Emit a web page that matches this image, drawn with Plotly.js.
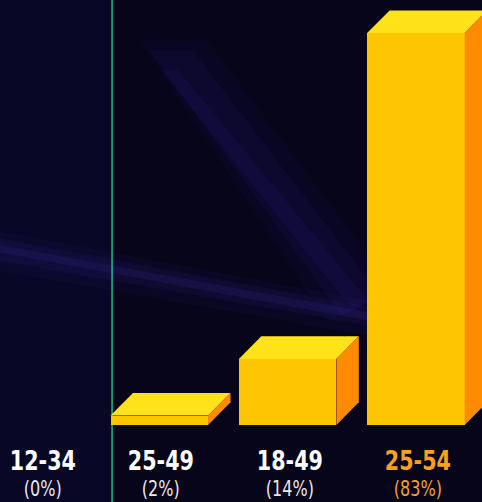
<!DOCTYPE html>
<html>
<head>
<meta charset="utf-8">
<script src="https://cdn.plot.ly/plotly-3.0.1.min.js"></script>
<style>
html,body{margin:0;padding:0;background:#06051a;}
#chart{width:482px;height:502px;}
</style>
</head>
<body>
<div id="chart"></div>
<script>
// ---- data ----
const categories = ["12-34", "25-49", "18-49", "25-54"];
const shares = [0, 2, 14, 83];
const shareLabels = ["(0%)", "(2%)", "(14%)", "(83%)"];
const highlight = [false, false, false, true];

// ---- styling ----
const W = 482, H = 502;
const barWidth = 0.76;
const depthX = 0.175;   // depth offset in x units
const depthY = 4.8;     // depth offset in y units
const frontColor = "#fec600";
const topColor = "#ffe21a";
const sideColor = "#ff8c00";
const xIdx = categories.map((c, i) => i);

const shapes = [];
// background glow (paper coords), layered for soft edges
shapes.push({type:"rect", xref:"paper", yref:"paper", layer:"below",
  x0:0, x1:0.232, y0:0, y1:1, fillcolor:"rgba(20,20,80,0.22)", line:{width:0}});
const diag = [
  ["M 0.29 0.92 L 0.43 0.92 L 0.82 0.42 L 0.68 0.36 Z", 0.06],
  ["M 0.31 0.90 L 0.40 0.90 L 0.79 0.41 L 0.71 0.37 Z", 0.08],
  ["M 0.335 0.86 L 0.37 0.86 L 0.765 0.40 L 0.73 0.385 Z", 0.10]
];
diag.forEach(d => shapes.push({type:"path", xref:"paper", yref:"paper", layer:"below",
  path:d[0], fillcolor:`rgba(60,40,180,${d[1]})`, line:{width:0}}));
const horiz = [
  ["M 0 0.54 L 0.77 0.40 L 0.77 0.33 L 0 0.46 Z", 0.06],
  ["M 0 0.525 L 0.77 0.388 L 0.77 0.35 L 0 0.48 Z", 0.09],
  ["M 0 0.512 L 0.77 0.377 L 0.77 0.36 L 0 0.497 Z", 0.14]
];
horiz.forEach(d => shapes.push({type:"path", xref:"paper", yref:"paper", layer:"below",
  path:d[0], fillcolor:`rgba(70,50,190,${d[1]})`, line:{width:0}}));
// green vertical line
shapes.push({type:"line", xref:"paper", yref:"paper", layer:"below",
  x0:0.2325, x1:0.2325, y0:0, y1:1, line:{color:"#1fbf7a", width:1.5}});

// 3D faces computed from data
xIdx.forEach((x, i) => {
  const v = shares[i];
  if (v <= 0) return;
  const l = x - barWidth / 2, r = x + barWidth / 2;
  shapes.push({type:"path", xref:"x", yref:"y", layer:"above",
    path:`M ${l} ${v} L ${l + depthX} ${v + depthY} L ${r + depthX} ${v + depthY} L ${r} ${v} Z`,
    fillcolor: topColor, line:{width:0}});
  shapes.push({type:"path", xref:"x", yref:"y", layer:"above",
    path:`M ${r} 0 L ${r} ${v} L ${r + depthX} ${v + depthY} L ${r + depthX} ${depthY} Z`,
    fillcolor: sideColor, line:{width:0}});
});

const fam = "DejaVu Sans Condensed, DejaVu Sans, sans-serif";
const annotations = xIdx.map((x, i) => {
  const col = highlight[i] ? "#f7a21e" : "#ffffff";
  const col2 = highlight[i] ? "#f0a030" : "#e8e8ee";
  return {
    x: x, y: -16.2, xref:"x", yref:"y", yanchor:"bottom", showarrow:false,
    xshift: i === 0 ? 12 : 2, borderpad:0,
    text: `<span style="font-size:27px;font-weight:bold">${categories[i]}</span><br>` +
          `<span style="font-size:21px;color:${col2}">${shareLabels[i]}</span>`,
    font:{family:fam, size:19.8, color:col}
  };
});

const trace = {
  type: "bar",
  x: xIdx,
  y: shares,
  width: barWidth,
  marker: {color: frontColor, line:{width:0}},
  hoverinfo: "skip"
};

const layout = {
  width: W, height: H,
  margin: {l:0, r:0, t:0, b:0},
  paper_bgcolor: "#06051a",
  plot_bgcolor: "rgba(0,0,0,0)",
  showlegend: false,
  xaxis: {range:[-0.2416, 3.515], visible:false, fixedrange:true},
  yaxis: {range:[-16.3, 90.0], visible:false, fixedrange:true},
  shapes: shapes,
  annotations: annotations,
  bargap: 0
};

Plotly.newPlot("chart", [trace], layout, {displayModeBar:false, staticPlot:true}).then(() => {
  // horizontally condense label text to match the narrow poster typeface
  document.querySelectorAll("#chart text.annotation-text").forEach(t => {
    const bb = t.getBBox();
    const cx = bb.x + bb.width / 2;
    t.setAttribute("transform", `translate(${cx},0) scale(0.85,1) translate(${-cx},0)`);
  });
});
</script>
</body>
</html>
